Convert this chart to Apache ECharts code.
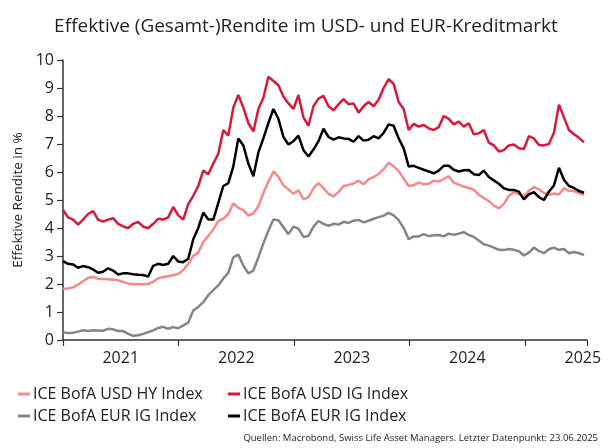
<!DOCTYPE html>
<html>
<head>
<meta charset="utf-8">
<script src="https://cdn.jsdelivr.net/npm/echarts@6/dist/echarts.min.js"></script>
<style>
  html, body { margin: 0; padding: 0; background: #fff; }
  #root { width: 612px; height: 448px; }
</style>
</head>
<body>
<div id="root"></div>
<script>
// sampled roughly every two weeks, 2021-01 .. 2025-06-23 (decimal years)
var nPts = 105;
var xStart = 2021.0, xEnd = 2025.51;
var dates = [];
for (var i = 0; i < nPts; i++) dates.push(xStart + i * (xEnd - xStart) / (nPts - 1));

var yearLabels = ['2021', '2022', '2023', '2024', '2025'];

// ICE BofA USD HY Index (pink)
var usdHY = [1.82,1.84,1.88,1.98,2.10,2.22,2.25,2.19,2.18,2.17,2.15,2.13,2.08,2.02,1.99,2.00,1.99,2.00,2.08,2.20,
  2.25,2.28,2.32,2.36,2.50,2.72,3.00,3.12,3.50,3.72,3.95,4.25,4.33,4.50,4.88,4.72,4.64,4.44,4.52,4.78,
  5.25,5.65,6.02,5.83,5.52,5.38,5.22,5.35,5.02,5.10,5.42,5.60,5.42,5.22,5.13,5.28,5.50,5.54,5.59,5.69,
  5.56,5.74,5.82,5.93,6.10,6.33,6.20,6.03,5.77,5.50,5.53,5.63,5.56,5.58,5.69,5.66,5.75,5.85,5.62,5.55,
  5.48,5.43,5.37,5.18,5.07,4.96,4.80,4.70,4.86,5.15,5.28,5.20,5.13,5.33,5.46,5.38,5.25,5.19,5.23,5.20,
  5.42,5.33,5.32,5.25,5.18];

// ICE BofA USD IG Index (red)
var usdIG = [4.64,4.38,4.30,4.12,4.30,4.50,4.60,4.30,4.23,4.30,4.35,4.15,4.06,3.99,4.15,4.22,4.05,3.99,4.15,4.33,
  4.30,4.38,4.75,4.45,4.30,4.85,5.15,5.50,6.05,5.92,6.30,6.65,7.50,7.30,8.30,8.75,8.30,7.75,7.45,8.25,
  8.65,9.40,9.25,9.10,8.70,8.45,8.25,8.75,7.95,7.65,8.35,8.62,8.72,8.35,8.20,8.42,8.60,8.42,8.45,8.12,
  8.35,8.50,8.35,8.58,9.00,9.32,9.15,8.50,8.25,7.50,7.72,7.62,7.68,7.56,7.50,7.60,8.00,7.90,7.70,7.80,
  7.62,7.74,7.35,7.38,7.50,7.05,6.95,6.73,6.78,6.95,6.98,6.85,6.82,7.28,7.20,6.96,6.95,7.00,7.40,8.40,
  7.95,7.50,7.35,7.22,7.06];

// ICE BofA EUR IG Index (grey)
var eurIG = [0.27,0.25,0.26,0.30,0.35,0.32,0.35,0.34,0.33,0.40,0.38,0.32,0.32,0.22,0.15,0.17,0.22,0.28,0.34,0.43,
  0.47,0.40,0.46,0.42,0.52,0.62,1.05,1.18,1.35,1.60,1.78,1.95,2.20,2.40,2.95,3.05,2.65,2.38,2.48,2.95,
  3.45,3.90,4.30,4.28,4.03,3.78,4.05,3.98,3.68,3.72,4.05,4.25,4.15,4.08,4.15,4.12,4.22,4.18,4.26,4.29,
  4.20,4.26,4.33,4.39,4.44,4.54,4.45,4.28,4.00,3.60,3.70,3.70,3.78,3.71,3.74,3.75,3.70,3.80,3.76,3.80,
  3.85,3.75,3.68,3.55,3.42,3.37,3.30,3.22,3.21,3.25,3.22,3.17,3.02,3.12,3.30,3.18,3.10,3.24,3.30,3.22,
  3.25,3.10,3.14,3.10,3.04];

// ICE BofA EUR IG Index (black)
var eurIGb = [2.82,2.72,2.70,2.58,2.64,2.60,2.52,2.40,2.44,2.56,2.48,2.34,2.38,2.38,2.35,2.33,2.32,2.27,2.65,2.72,
  2.68,2.72,3.00,2.80,2.78,2.90,3.60,4.00,4.55,4.30,4.30,4.90,5.50,5.60,6.20,7.20,6.95,6.30,5.85,6.70,
  7.20,7.75,8.25,7.90,7.25,6.98,7.10,7.30,6.78,6.55,6.80,7.10,7.55,7.25,7.16,7.24,7.20,7.18,7.08,7.28,
  7.12,7.15,7.28,7.20,7.40,7.70,7.65,7.20,6.85,6.20,6.22,6.15,6.08,6.02,5.95,6.05,6.22,6.22,6.08,6.02,
  6.06,6.07,5.92,5.89,6.05,5.82,5.70,5.58,5.42,5.36,5.36,5.30,5.02,5.20,5.28,5.10,5.00,5.30,5.52,6.15,
  5.72,5.50,5.43,5.32,5.26];

var seriesDefs = [
  { key: 'hy', label: 'ICE BofA USD HY Index', color: '#f48a8c', data: usdHY },
  { key: 'usig', label: 'ICE BofA USD IG Index', color: '#d7193a', data: usdIG },
  { key: 'euig', label: 'ICE BofA EUR IG Index', color: '#858585', data: eurIG },
  { key: 'euig2', label: 'ICE BofA EUR IG Index', color: '#000000', data: eurIGb }
];
var labelOf = {};
seriesDefs.forEach(function (s) { labelOf[s.key] = s.label; });

var FONT = 'Open Sans';
var xMax = 2025.536;

var chart = echarts.init(document.getElementById('root'), null, { renderer: 'canvas' });

var legendBase = {
  orient: 'vertical',
  top: 380,
  itemWidth: 12,
  itemHeight: 3,
  itemGap: 4,
  icon: 'rect',
  formatter: function (n) { return labelOf[n]; },
  textStyle: { fontFamily: FONT, fontSize: 16, color: '#222', padding: [0, 0, 0, -2], lineHeight: 18 },
  selectedMode: false
};

var option = {
  animation: false,
  backgroundColor: '#fff',
  title: {
    text: 'Effektive (Gesamt-)Rendite im USD- und EUR-Kreditmarkt',
    left: 'center',
    top: 12,
    textStyle: { fontFamily: FONT, fontSize: 19, fontWeight: 'normal', color: '#222' }
  },
  legend: [
    Object.assign({}, legendBase, { left: 13, data: ['hy', 'euig'] }),
    Object.assign({}, legendBase, { left: 223, data: ['usig', 'euig2'] })
  ],
  grid: { left: 63, right: 25, top: 60, bottom: 108 },
  xAxis: [
    {
      type: 'value', min: 2021, max: xMax, interval: 1,
      axisLine: { show: true, lineStyle: { color: '#333', width: 1.5 } },
      axisTick: { show: true, length: 6, lineStyle: { color: '#333', width: 1.2 } },
      axisLabel: { show: false },
      splitLine: { show: false }
    },
    {
      type: 'value', min: 2021, max: xMax, interval: 0.5, position: 'bottom',
      axisLine: { show: false }, axisTick: { show: false }, splitLine: { show: false },
      axisLabel: {
        margin: 10,
        fontFamily: FONT, fontSize: 16, color: '#222',
        formatter: function (v) {
          var y = Math.floor(v);
          if (Math.abs(v - y - 0.5) < 1e-6) return yearLabels[y - 2021] || '';
          return '';
        }
      }
    }
  ],
  yAxis: {
    type: 'value', min: 0, max: 10, interval: 1,
    name: 'Effektive Rendite in %',
    nameLocation: 'middle',
    nameRotate: 90,
    nameGap: 31,
    nameTextStyle: { fontFamily: FONT, fontSize: 13.5, color: '#222' },
    axisLine: { show: true, lineStyle: { color: '#333', width: 1.5 } },
    axisTick: { show: true, length: 6, lineStyle: { color: '#333', width: 1.2 } },
    axisLabel: { margin: 9, fontFamily: FONT, fontSize: 16, color: '#222' },
    splitLine: { show: false }
  },
  graphic: [{
    type: 'text',
    right: 14,
    bottom: 5,
    style: {
      text: 'Quellen: Macrobond, Swiss Life Asset Managers. Letzter Datenpunkt: 23.06.2025',
      font: '9.5px "Open Sans"',
      fill: '#222'
    }
  }],
  series: seriesDefs.map(function (s) {
    return {
      name: s.key,
      type: 'line',
      xAxisIndex: 0,
      showSymbol: false,
      symbol: 'none',
      lineStyle: { color: s.color, width: 2.5 },
      itemStyle: { color: s.color },
      data: s.data.map(function (v, i) { return [dates[i], v]; })
    };
  })
};

chart.setOption(option);
</script>
</body>
</html>
